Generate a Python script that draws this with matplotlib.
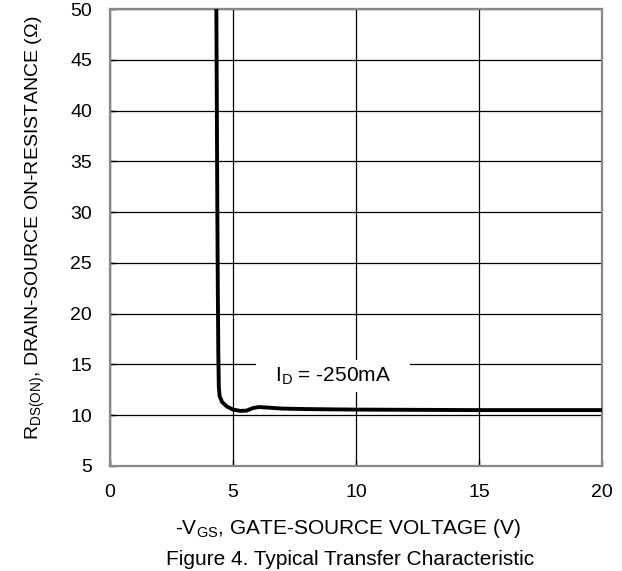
import matplotlib.pyplot as plt
from matplotlib.patches import Rectangle

plt.rcParams['font.family'] = ['Liberation Sans', 'DejaVu Sans']

# R_DS(on) vs -V_GS at I_D = -250mA
vgs = [4.32, 4.34, 4.36, 4.38, 4.40, 4.42, 4.45, 4.55, 4.75, 5.0, 5.3, 5.55,
       5.8, 6.05, 6.4, 7.0, 8.0, 10.0, 15.0, 20.0]
rds = [50.0, 40.0, 30.0, 22.0, 16.0, 12.8, 11.9, 11.3, 10.85, 10.55, 10.42, 10.45,
       10.7, 10.8, 10.75, 10.65, 10.6, 10.55, 10.5, 10.5]
xticks = [0, 5, 10, 15, 20]
yticks = [5, 10, 15, 20, 25, 30, 35, 40, 45, 50]

fs = 14

fig = plt.figure(figsize=(6.22, 5.71), dpi=100)
ax = fig.add_axes([0.177, 0.184, 0.791, 0.800])

ax.set_xlim(0, 20)
ax.set_ylim(5, 50)
ax.set_xticks(xticks)
ax.set_yticks(yticks)
ax.grid(True, color='black', linewidth=0.9, zorder=1)
ax.set_axisbelow(True)
ax.tick_params(direction='in', length=4, labelsize=fs, width=1, pad=13)
for s in ax.spines.values():
    s.set_color('#888888')
    s.set_linewidth(1.6)

# white patch behind the label so the grid stops around it
ax.add_patch(Rectangle((5.93, 12.3), 6.27, 3.1, facecolor='white',
                       edgecolor='none', zorder=2))
ax.text(9.08, 13.8, 'I$_\\mathregular{D}$ = -250mA', fontsize=15,
        ha='center', va='center', zorder=3)

ax.plot(vgs, rds, color='black', linewidth=2.8, zorder=4,
        solid_joinstyle='round')

ax.set_xlabel('-V$_\\mathregular{GS}$, GATE-SOURCE VOLTAGE (V)', fontsize=15)
ax.set_ylabel('R$_\\mathregular{DS(ON)}$, DRAIN-SOURCE ON-RESISTANCE (\u03a9)',
              fontsize=fs)
ax.xaxis.set_label_coords(0.483, -0.112)
ax.yaxis.set_label_coords(-0.128, 0.521)
ax.text(0.488, -0.205, 'Figure 4. Typical Transfer Characteristic', fontsize=15,
        ha='center', va='center', transform=ax.transAxes)

fig.savefig('out.png', dpi=100)
